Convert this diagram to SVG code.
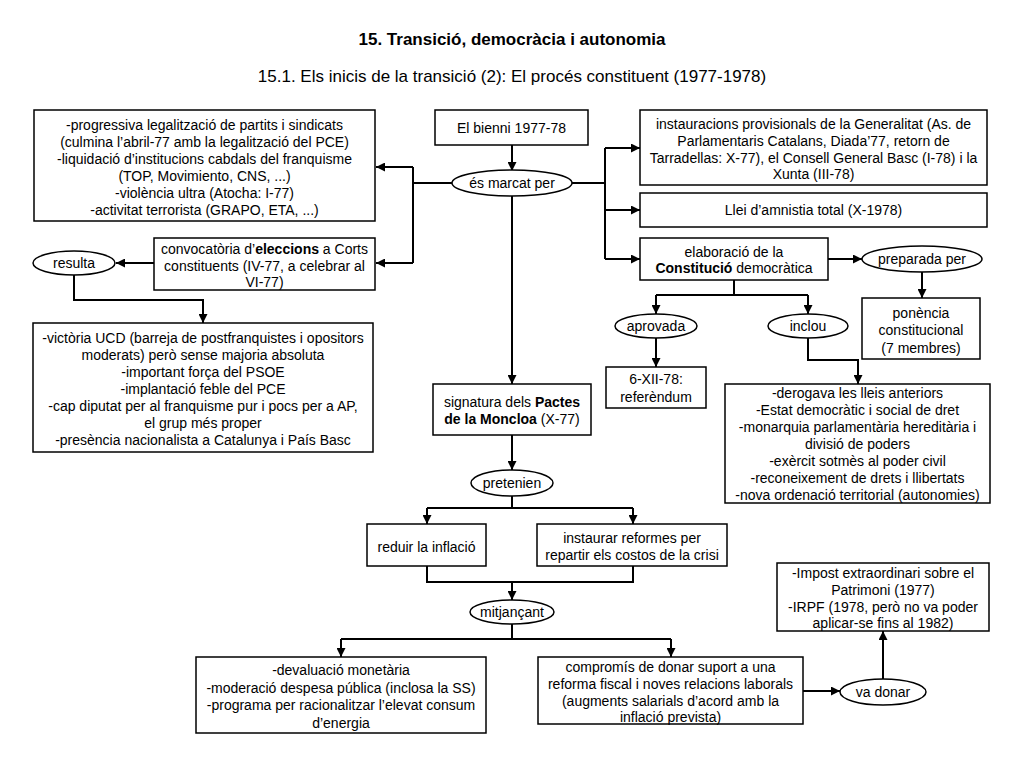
<svg xmlns="http://www.w3.org/2000/svg" width="1024" height="768" viewBox="0 0 1024 768">
<defs>
<style>
.bg{fill:#ffffff}
.box{fill:#ffffff;stroke:#000000;stroke-width:1.5}
.ell{fill:#ffffff;stroke:#000000;stroke-width:1.5}
.t{font-family:"Liberation Sans",Arial,sans-serif;font-size:14px;fill:#000000;text-anchor:middle}
.n{font-size:14px}
.b{font-weight:bold}
.title{font-family:"Liberation Sans",Arial,sans-serif;font-size:17px;font-weight:bold;fill:#000000;text-anchor:middle}
.sub{font-family:"Liberation Sans",Arial,sans-serif;font-size:17px;fill:#000000;text-anchor:middle}
.c{fill:none;stroke:#000000;stroke-width:2}
</style>
<marker id="ah" viewBox="0 0 10 10" refX="10" refY="5" markerWidth="9" markerHeight="9" markerUnits="userSpaceOnUse" orient="auto">
<path d="M0,0 L10,5 L0,10 z" fill="#000000"/>
</marker>
</defs>
<rect class="bg" x="0" y="0" width="1024" height="768"/>
<text class="title" x="512" y="45">15. Transició, democràcia i autonomia</text>
<text class="sub" x="512" y="82">15.1. Els inicis de la transició (2): El procés constituent (1977-1978)</text>

<g id="connectors">
<path class="c" d="M512,145 V171" marker-end="url(#ah)"/>
<path class="c" d="M452,183 H413"/>
<path class="c" d="M413,167 V263"/>
<path class="c" d="M413,167 H376" marker-end="url(#ah)"/>
<path class="c" d="M413,263 H376" marker-end="url(#ah)"/>
<path class="c" d="M154,263 H116" marker-end="url(#ah)"/>
<path class="c" d="M74,275 V300 H203 V323" marker-end="url(#ah)"/>
<path class="c" d="M572,183 H605"/>
<path class="c" d="M605,148 V259"/>
<path class="c" d="M605,148 H640" marker-end="url(#ah)"/>
<path class="c" d="M605,210 H640" marker-end="url(#ah)"/>
<path class="c" d="M605,259 H640" marker-end="url(#ah)"/>
<path class="c" d="M512,196 V384" marker-end="url(#ah)"/>
<path class="c" d="M828,259 H862" marker-end="url(#ah)"/>
<path class="c" d="M922,272 V298" marker-end="url(#ah)"/>
<path class="c" d="M734,280 V295"/>
<path class="c" d="M656,295 H808"/>
<path class="c" d="M656,295 V314" marker-end="url(#ah)"/>
<path class="c" d="M808,295 V314" marker-end="url(#ah)"/>
<path class="c" d="M656,338 V367" marker-end="url(#ah)"/>
<path class="c" d="M808,338 V360 H858 V384" marker-end="url(#ah)"/>
<path class="c" d="M512,435 V470" marker-end="url(#ah)"/>
<path class="c" d="M512,496 V508"/>
<path class="c" d="M427,508 H633"/>
<path class="c" d="M427,508 V524" marker-end="url(#ah)"/>
<path class="c" d="M633,508 V524" marker-end="url(#ah)"/>
<path class="c" d="M427,566 V582 H633 V566"/>
<path class="c" d="M512,582 V600" marker-end="url(#ah)"/>
<path class="c" d="M512,624 V639"/>
<path class="c" d="M341,639 H671"/>
<path class="c" d="M341,639 V657" marker-end="url(#ah)"/>
<path class="c" d="M671,639 V657" marker-end="url(#ah)"/>
<path class="c" d="M803,691 H840" marker-end="url(#ah)"/>
<path class="c" d="M883,679 V631" marker-end="url(#ah)"/>
</g>

<g id="n-legalitzacio">
<rect class="box" x="34" y="110" width="341" height="111"/>
<text class="t" x="204.5" y="130">-progressiva legalització de partits i sindicats</text>
<text class="t" x="204.5" y="147">(culmina l’abril-77 amb la legalització del PCE)</text>
<text class="t" x="204.5" y="164">-liquidació d’institucions cabdals del franquisme</text>
<text class="t" x="204.5" y="181">(TOP, Movimiento, CNS, ...)</text>
<text class="t" x="204.5" y="198">-violència ultra (Atocha: I-77)</text>
<text class="t" x="204.5" y="215">-activitat terrorista (GRAPO, ETA, ...)</text>
</g>

<g id="n-convocatoria">
<rect class="box" x="154" y="238" width="221" height="52"/>
<text class="t" x="264.5" y="254">convocatòria d’<tspan class="b">eleccions</tspan> a Corts</text>
<text class="t" x="264.5" y="270.5">constituents (IV-77, a celebrar al</text>
<text class="t" x="264.5" y="287">VI-77)</text>
</g>

<g id="n-resulta">
<ellipse class="ell" cx="74" cy="263" rx="41" ry="12"/>
<text class="t" x="74" y="268">resulta</text>
</g>

<g id="n-victoria">
<rect class="box" x="33" y="323" width="340" height="129"/>
<text class="t" x="203" y="343">-victòria UCD (barreja de postfranquistes i opositors</text>
<text class="t" x="203" y="360">moderats) però sense majoria absoluta</text>
<text class="t" x="203" y="377">-important força del PSOE</text>
<text class="t" x="203" y="394">-implantació feble del PCE</text>
<text class="t" x="203" y="411">-cap diputat per al franquisme pur i pocs per a AP,</text>
<text class="t" x="203" y="428">el grup més proper</text>
<text class="t" x="203" y="445">-presència nacionalista a Catalunya i País Basc</text>
</g>

<g id="n-bienni">
<rect class="box" x="435" y="110" width="153" height="35"/>
<text class="t" x="511.5" y="132.5">El bienni 1977-78</text>
</g>

<g id="n-marcat">
<ellipse class="ell" cx="512" cy="183" rx="60" ry="13"/>
<text class="t" x="512" y="188">és marcat per</text>
</g>

<g id="n-generalitat">
<rect class="box" x="640" y="110" width="347" height="75"/>
<text class="t" x="813.5" y="129">instauracions provisionals de la Generalitat (As. de</text>
<text class="t" x="813.5" y="146">Parlamentaris Catalans, Diada’77, retorn de</text>
<text class="t" x="813.5" y="162.5">Tarradellas: X-77), el Consell General Basc (I-78) i la</text>
<text class="t" x="813.5" y="179">Xunta (III-78)</text>
</g>

<g id="n-amnistia">
<rect class="box" x="640" y="193" width="347" height="34"/>
<text class="t" x="813.5" y="215">Llei d’amnistia total (X-1978)</text>
</g>

<g id="n-constitucio">
<rect class="box" x="640" y="238" width="188" height="42"/>
<text class="t" x="734" y="256.5">elaboració de la</text>
<text class="t" x="734" y="273">
<tspan class="b">Constitució</tspan> democràtica</text>
</g>

<g id="n-preparada">
<ellipse class="ell" cx="922" cy="259" rx="60" ry="13"/>
<text class="t" x="922" y="264">preparada per</text>
</g>

<g id="n-ponencia">
<rect class="box" x="862" y="298" width="118" height="61"/>
<text class="t" x="921" y="318">ponència</text>
<text class="t" x="921" y="335">constitucional</text>
<text class="t" x="921" y="352.5">(7 membres)</text>
</g>

<g id="n-aprovada">
<ellipse class="ell" cx="656" cy="326" rx="41" ry="12"/>
<text class="t" x="656" y="331">aprovada</text>
</g>

<g id="n-inclou">
<ellipse class="ell" cx="808" cy="326" rx="40" ry="12"/>
<text class="t" x="808" y="331">inclou</text>
</g>

<g id="n-referendum">
<rect class="box" x="606" y="367" width="100" height="41"/>
<text class="t" x="656" y="384">6-XII-78:</text>
<text class="t" x="656" y="401.5">referèndum</text>
</g>

<g id="n-derogava">
<rect class="box" x="725" y="384" width="265" height="119"/>
<text class="t" x="857.5" y="398">-derogava les lleis anteriors</text>
<text class="t" x="857.5" y="415">-Estat democràtic i social de dret</text>
<text class="t" x="857.5" y="432">-monarquia parlamentària hereditària i</text>
<text class="t" x="857.5" y="449">divisió de poders</text>
<text class="t" x="857.5" y="466">-exèrcit sotmès al poder civil</text>
<text class="t" x="857.5" y="483">-reconeixement de drets i llibertats</text>
<text class="t" x="857.5" y="500">-nova ordenació territorial (autonomies)</text>
</g>

<g id="n-pactes">
<rect class="box" x="433" y="384" width="158" height="51"/>
<text class="t" x="512" y="407">signatura dels <tspan class="b">Pactes</tspan></text>
<text class="t" x="512" y="424"><tspan class="b">de la Moncloa</tspan> (X-77)</text>
</g>

<g id="n-pretenien">
<ellipse class="ell" cx="512" cy="483" rx="41" ry="13"/>
<text class="t" x="512" y="488">pretenien</text>
</g>

<g id="n-reduir">
<rect class="box" x="367" y="524" width="119" height="42"/>
<text class="t" x="426.5" y="552">reduir la inflació</text>
</g>

<g id="n-instaurar">
<rect class="box" x="537" y="524" width="190" height="42"/>
<text class="t" x="632" y="543">instaurar reformes per</text>
<text class="t" x="632" y="560">repartir els costos de la crisi</text>
</g>

<g id="n-mitjancant">
<ellipse class="ell" cx="512" cy="612" rx="42" ry="12"/>
<text class="t" x="512" y="617">mitjançant</text>
</g>

<g id="n-devaluacio">
<rect class="box" x="196" y="657" width="290" height="76"/>
<text class="t n" x="341" y="675">-devaluació monetària</text>
<text class="t n" x="341" y="692.5">-moderació despesa pública (inclosa la SS)</text>
<text class="t n" x="341" y="710">-programa per racionalitzar l’elevat consum</text>
<text class="t n" x="341" y="727.5">d’energia</text>
</g>

<g id="n-compromis">
<rect class="box" x="538" y="657" width="265" height="67"/>
<text class="t n" x="670.5" y="672">compromís de donar suport a una</text>
<text class="t n" x="670.5" y="688.5">reforma fiscal i noves relacions laborals</text>
<text class="t n" x="670.5" y="705.5">(augments salarials d’acord amb la</text>
<text class="t n" x="670.5" y="721.5">inflació prevista)</text>
</g>

<g id="n-vadonar">
<ellipse class="ell" cx="883" cy="692" rx="43" ry="13"/>
<text class="t" x="883" y="697">va donar</text>
</g>

<g id="n-impost">
<rect class="box" x="777" y="563" width="212" height="68"/>
<text class="t n" x="883" y="578">-Impost extraordinari sobre el</text>
<text class="t n" x="883" y="595">Patrimoni (1977)</text>
<text class="t n" x="883" y="611.5">-IRPF (1978, però no va poder</text>
<text class="t n" x="883" y="628">aplicar-se fins al 1982)</text>
</g>
</svg>
